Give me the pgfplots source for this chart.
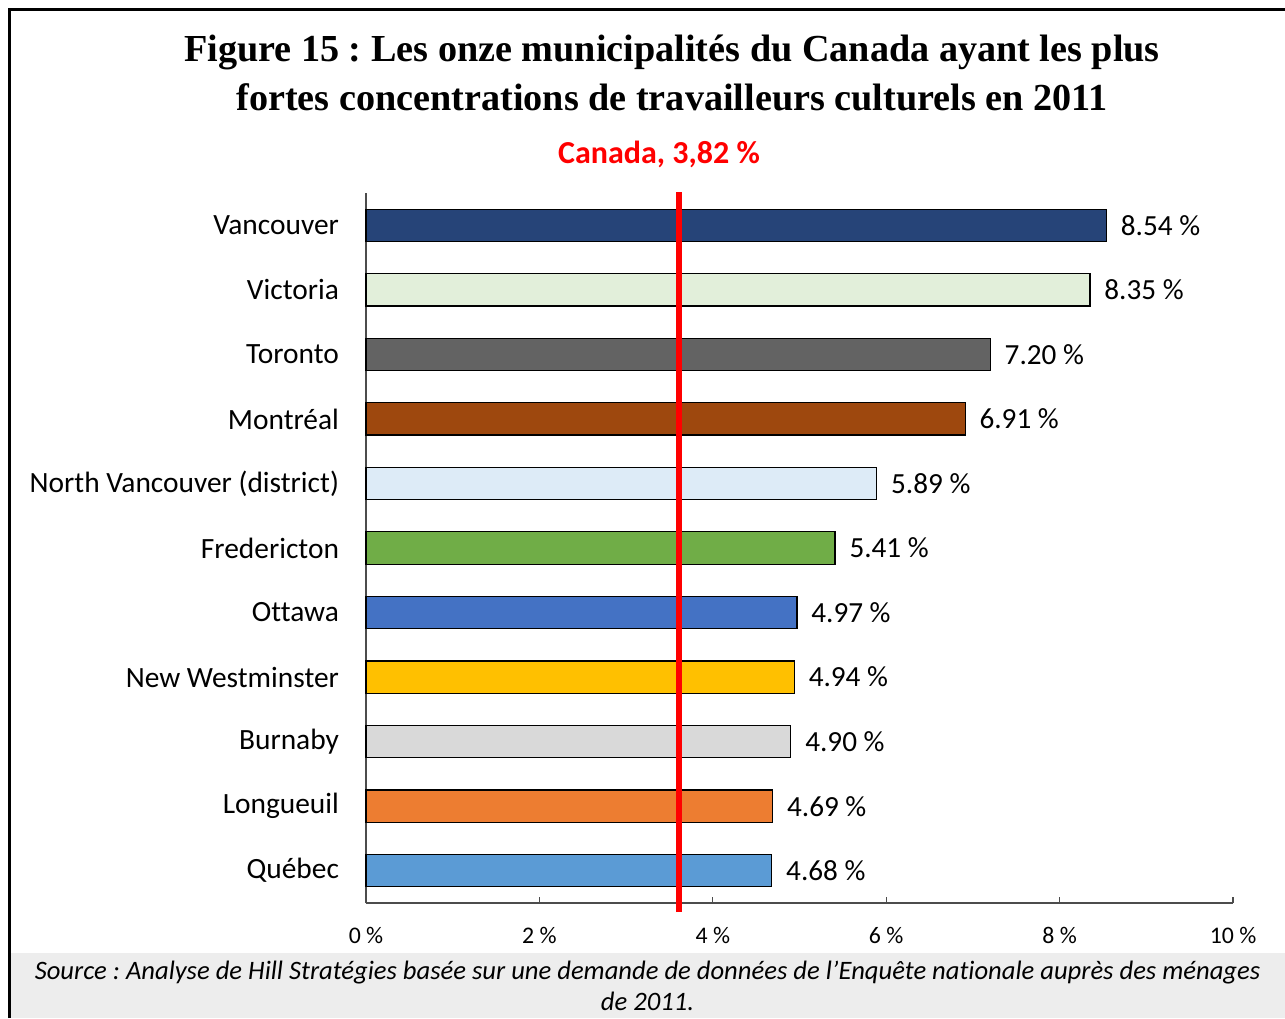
\documentclass[border=0pt]{standalone}
\usepackage{fontspec}
\setmainfont{Carlito}[Ligatures=NoCommon]
\newfontfamily\titlefont{Liberation Serif}
\usepackage{pgfplots}
\pgfplotsset{compat=1.18}

\definecolor{cVan}{HTML}{264478}
\definecolor{cVic}{HTML}{E2EFDA}
\definecolor{cTor}{HTML}{636363}
\definecolor{cMtl}{HTML}{9E480E}
\definecolor{cNVan}{HTML}{DDEBF7}
\definecolor{cFre}{HTML}{70AD47}
\definecolor{cOtt}{HTML}{4472C4}
\definecolor{cNWe}{HTML}{FFC000}
\definecolor{cBur}{HTML}{D9D9D9}
\definecolor{cLon}{HTML}{ED7D31}
\definecolor{cQue}{HTML}{5B9BD5}
\definecolor{footgray}{HTML}{EDEDED}

\begin{document}
\frenchspacing
\begin{tikzpicture}
\useasboundingbox (0,0) rectangle (642.5pt,509pt);
% footer band and frame
\fill[footgray] (4.5pt,0) rectangle (642.5pt,32.5pt);
\draw[line width=1.5pt] (4.5pt,0) -- (4.5pt,504pt) -- (642.5pt,504pt);

\node[font=\titlefont\bfseries\fontsize{19.1}{24.5}\selectfont, align=center]
  at (336pt,472.75pt)
  {Figure 15 : Les onze municipalités du Canada ayant les plus\\
   fortes concentrations de travailleurs culturels en 2011};
\node[font=\bfseries\fontsize{16}{18}\selectfont, text=red]
  at (329.5pt,432pt) {Canada, 3,82 \%};

\begin{axis}[
  at={(183pt,57.5pt)}, anchor=south west,
  scale only axis, width=433.5pt, height=355pt,
  xbar, bar width=0.5, bar shift=0pt,
  xmin=0, xmax=10, ymin=-0.5, ymax=10.5,
  axis lines*=left,
  axis line style={draw=black!70, line width=0.6pt},
  clip=false,
  /pgf/number format/assume math mode=true,
  xtick={0,2,...,10},
  xticklabel={\pgfmathprintnumber{\tick}~\%},
  tick align=inside, major tick length=3pt,
  x tick style={draw=black!70, line width=0.6pt},
  xticklabel style={font=\fontsize{11.9}{13}\selectfont, yshift=-8.5pt},
  ytick={0,...,10},
  yticklabels={Québec, Longueuil, Burnaby, New Westminster, Ottawa,
    Fredericton, North Vancouver (district), Montréal, Toronto,
    Victoria, Vancouver},
  y tick style={draw=none},
  yticklabel style={font=\fontsize{14.7}{17}\selectfont, xshift=-10pt},
  nodes near coords={\pgfmathprintnumber[fixed,fixed zerofill,precision=2]{\pgfplotspointmeta}~\%},
  nodes near coords style={font=\fontsize{14.6}{17}\selectfont, anchor=west, xshift=3.6pt},
  every axis plot/.append style={draw=black, line width=0.6pt},
]
\addplot[fill=cVan] coordinates {(8.54,10)};
\addplot[fill=cVic] coordinates {(8.35,9)};
\addplot[fill=cTor] coordinates {(7.20,8)};
\addplot[fill=cMtl] coordinates {(6.91,7)};
\addplot[fill=cNVan] coordinates {(5.89,6)};
\addplot[fill=cFre] coordinates {(5.41,5)};
\addplot[fill=cOtt] coordinates {(4.97,4)};
\addplot[fill=cNWe] coordinates {(4.94,3)};
\addplot[fill=cBur] coordinates {(4.90,2)};
\addplot[fill=cLon] coordinates {(4.69,1)};
\addplot[fill=cQue] coordinates {(4.68,0)};
\draw[red, line width=3pt] (axis cs:3.61,-0.64) -- (axis cs:3.61,10.52);
\end{axis}

\node[font=\itshape\fontsize{13.3}{15.5}\selectfont, align=center]
  at (323.75pt,16pt)
  {Source : Analyse de Hill Stratégies basée sur une demande de données de l’Enquête nationale auprès des ménages\\
   de 2011.};
\end{tikzpicture}
\end{document}
